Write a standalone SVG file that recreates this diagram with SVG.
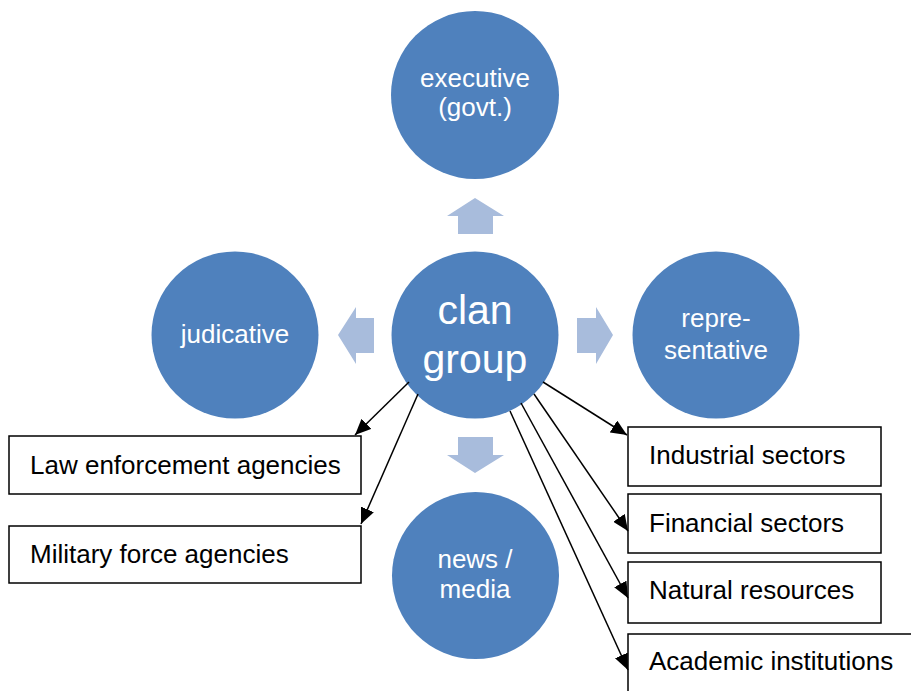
<svg xmlns="http://www.w3.org/2000/svg" width="911" height="691" viewBox="0 0 911 691">
<defs>
<style>
.c{fill:#4F81BD}
.ct{fill:#fff;font-family:"Liberation Sans",Arial,sans-serif;font-size:26px;text-anchor:middle}
.big{font-size:41px}
.ba{fill:#A8BCDC}
.bx{fill:#fff;stroke:#000;stroke-width:1.5}
.bt{fill:#000;font-family:"Liberation Sans",Arial,sans-serif;font-size:26px}
.ln{stroke:#000;stroke-width:1.5;fill:none;marker-end:url(#ah)}
</style>
<marker id="ah" markerUnits="userSpaceOnUse" markerWidth="16" markerHeight="14" refX="16" refY="7" orient="auto">
<path d="M0,0 L16,7 L0,14 Z" fill="#000"/>
</marker>
</defs>
<rect width="911" height="691" fill="#fff"/>
<g id="block-arrows">
<path class="ba" d="M475,198 L504,216 L493,216 L493,234 L458,234 L458,216 L447,216 Z"/>
<path class="ba" d="M475,473 L504,455 L493,455 L493,437 L458,437 L458,455 L447,455 Z"/>
<path class="ba" d="M338,335 L356,307 L356,318 L374,318 L374,353 L356,353 L356,364 Z"/>
<path class="ba" d="M613,335 L596,307 L596,318 L577,318 L577,353 L596,353 L596,364 Z"/>
</g>
<g id="executive">
<circle class="c" cx="475" cy="95" r="84"/>
<text class="ct" x="475" y="87">executive</text>
<text class="ct" x="475" y="116">(govt.)</text>
</g>
<g id="judicative">
<circle class="c" cx="235" cy="335" r="83.5"/>
<text class="ct" x="235" y="343">judicative</text>
</g>
<g id="clan-group">
<circle class="c" cx="475" cy="335" r="83.5"/>
<text class="ct big" x="475" y="324">clan</text>
<text class="ct big" x="475" y="373">group</text>
</g>
<g id="representative">
<circle class="c" cx="716" cy="335" r="83.5"/>
<text class="ct" x="716" y="327">repre-</text>
<text class="ct" x="716" y="359">sentative</text>
</g>
<g id="news-media">
<circle class="c" cx="475.5" cy="575.5" r="83.5"/>
<text class="ct" x="475" y="568">news /</text>
<text class="ct" x="475" y="598">media</text>
</g>
<g id="law-enforcement">
<rect class="bx" x="9" y="436" width="352" height="58"/>
<text class="bt" x="30" y="474">Law enforcement agencies</text>
</g>
<g id="military">
<rect class="bx" x="9" y="526" width="352" height="57"/>
<text class="bt" x="30" y="563">Military force agencies</text>
</g>
<g id="industrial">
<rect class="bx" x="628" y="427" width="253" height="59"/>
<text class="bt" x="649" y="464">Industrial sectors</text>
</g>
<g id="financial">
<rect class="bx" x="628" y="494" width="253" height="59"/>
<text class="bt" x="649" y="532">Financial sectors</text>
</g>
<g id="natural">
<rect class="bx" x="628" y="562" width="253" height="61"/>
<text class="bt" x="649" y="599">Natural resources</text>
</g>
<g id="academic">
<rect class="bx" x="628" y="634" width="300" height="80"/>
<text class="bt" x="649" y="670">Academic institutions</text>
</g>
<g id="connectors">
<line class="ln" x1="409" y1="382" x2="355" y2="435"/>
<line class="ln" x1="418" y1="394" x2="361" y2="524"/>
<line class="ln" x1="543" y1="382" x2="627" y2="435"/>
<line class="ln" x1="534" y1="394" x2="628" y2="531"/>
<line class="ln" x1="521" y1="403" x2="628" y2="598"/>
<line class="ln" x1="510" y1="411" x2="628" y2="670"/>
</g>
</svg>
